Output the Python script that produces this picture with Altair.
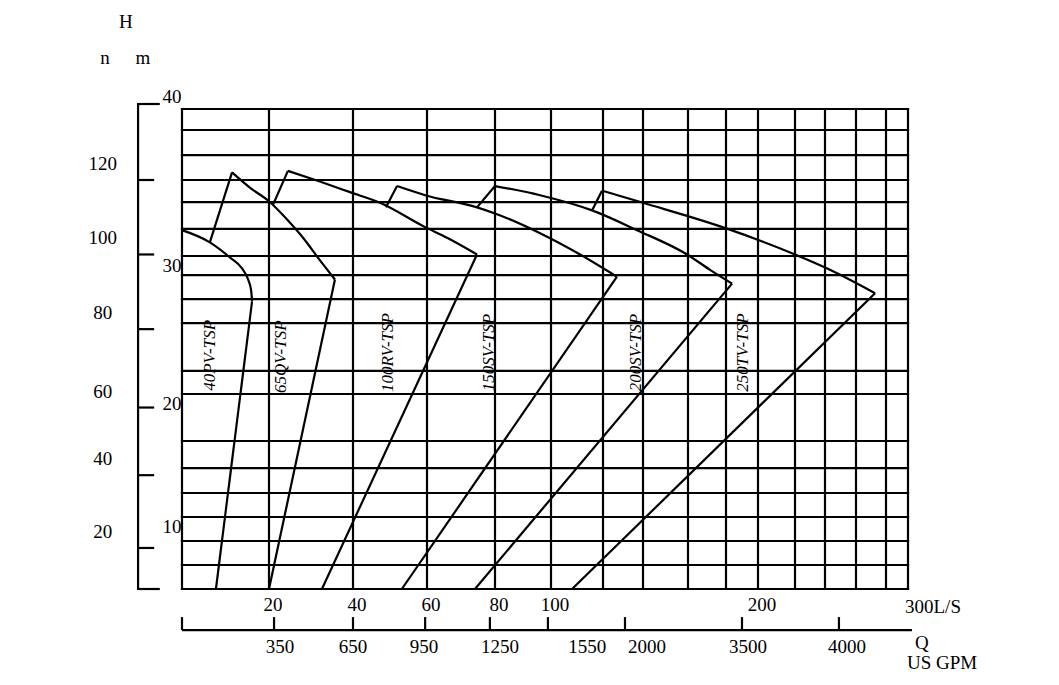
import altair as alt
import pandas as pd

# ---------------- data ----------------
MODELS = ["40PV-TSP", "65QV-TSP", "100RV-TSP", "150SV-TSP", "200SV-TSP", "250TV-TSP"]

# upper H-Q curve of each pump (Q in L/S, H in m)
CURVE_Q = [
    [0.0, 6.4, 11.0, 13.8, 15.2, 15.9, 16.1],
    [11.5, 15.6, 20.0, 24.3, 28.1, 32.1, 35.7],
    [24.5, 32.1, 39.3, 47.3, 59.5, 65.9, 74.7],
    [51.9, 59.5, 74.7, 80.0, 96.1, 111.2, 127.0],
    [80.0, 96.1, 115.8, 137.0, 159.6, 171.6, 183.8],
    [119.6, 140.0, 180.6, 220.0, 243.2, 272.7],
]
CURVE_H = [
    [31.7, 30.9, 29.9, 29.1, 28.3, 27.5, 26.7],
    [35.5, 34.5, 33.6, 32.4, 31.2, 29.7, 28.3],
    [35.6, 34.9, 34.2, 33.5, 31.9, 31.2, 30.1],
    [34.6, 34.0, 33.2, 32.8, 31.5, 30.1, 28.5],
    [34.6, 34.0, 33.0, 31.7, 30.1, 29.0, 28.0],
    [34.3, 33.5, 31.8, 30.1, 29.0, 27.3],
]
# Q where the straight falling branch of each curve reaches H = 0
END_Q = [7.8, 20.0, 32.6, 53.2, 74.1, 108.1]
# short connector drawn from the previous curve up to each curve's first point
HOOK_Q = [6.4, 21.0, 48.9, 74.7, 115.8]
HOOK_H = [30.9, 33.4, 33.2, 33.2, 33.0]
# where the model names sit (data space)
LABEL_Q = [6.4, 22.9, 49.5, 78.2, 136.5, 190.6]
LABEL_H = [22.8, 22.7, 23.0, 23.0, 23.0, 23.0]

# grid of the chart
GRID_Q = [0, 20, 40, 60, 80, 100, 120, 140, 160, 180, 200, 220, 240, 260, 280, 300]
GRID_H = [0, 3.33, 6.67, 10, 11.95, 13.98, 16.18, 20, 21.67, 25.14, 26.88,
          28.62, 30, 31.78, 33.55, 35.0, 36.64, 38.29, 39.67]

# tick labels
LS_LABELS = [20, 40, 60, 80, 100, 200]
M_LABELS = [10, 20, 30]
M_TOP_LABEL = [40]
FT_LABELS = [20, 40, 60, 80, 100, 120]
FT_TICK_H = [5.7, 13.4, 18.9, 24.7, 30.1, 35.0]
GPM_LABELS = ["350", "650", "950", "1250", "1550", "2000", "3500", "4000"]
GPM_TICK_Q = [0, 21.2, 40.0, 59.5, 78.5, 98.9, 131.0, 190.0, 249.0]
GPM_LABEL_Q = [22.6, 40.0, 59.2, 81.8, 113.9, 141.8, 193.8, 254.2]

# ---------------- layout (scales and decoration anchors) ----------------
X_RANGE = [174, 261, 345, 419, 487, 543, 595, 635, 680, 718, 750, 787, 817, 848, 878, 900]
Y_STOPS = [0, 10, 20, 30, 40]
Y_RANGE = [581, 509, 386, 248, 96]

BRACKET_Q = -10.1
BRACKET_TICK_END = -6.4
BRACKET_CAP_END = -5.1
FT_LABEL_Q = -18.2
M_LABEL_Q = -2.3
GPM_AXIS_H = -5.7
GPM_TICK_TOP = -3.9
GPM_AXIS_END = 303.6
HEADER_TEXT = ["H", "n", "m"]
HEADER_Q = [-12.9, -17.7, -9.0]
HEADER_H = [45.4, 43.0, 43.0]

FONT = "Liberation Serif, Times New Roman, serif"
FS = 19
INK = "#000000"
LW = 2.2

XS = alt.Scale(domain=GRID_Q, range=X_RANGE, nice=False, zero=False)
YS = alt.Scale(domain=Y_STOPS, range=Y_RANGE, nice=False, zero=False)


def X(f):
    return alt.X(f, type="quantitative", scale=XS, axis=None)


def Y(f):
    return alt.Y(f, type="quantitative", scale=YS, axis=None)


def txt(df, **kw):
    return alt.Chart(df).mark_text(font=FONT, fontSize=kw.pop("fontSize", FS), color=INK, **kw)


# ---------------- tables ----------------
rows = []
for k, m in enumerate(MODELS):
    for i, (q, h) in enumerate(zip(CURVE_Q[k], CURVE_H[k])):
        rows.append({"model": m, "i": i, "q": q, "h": h})
df_curve = pd.DataFrame(rows)

df_fall = pd.DataFrame({
    "model": MODELS,
    "q": [c[-1] for c in CURVE_Q],
    "h": [c[-1] for c in CURVE_H],
    "q2": END_Q,
    "h2": [0] * len(MODELS),
})
df_hook = pd.DataFrame({
    "model": MODELS[1:],
    "q": HOOK_Q,
    "h": HOOK_H,
    "q2": [c[0] for c in CURVE_Q[1:]],
    "h2": [c[0] for c in CURVE_H[1:]],
})
df_label = pd.DataFrame({"model": MODELS, "q": LABEL_Q, "h": LABEL_H})

df_vgrid = pd.DataFrame({"q": GRID_Q, "h0": GRID_H[0], "h1": GRID_H[-1]})
df_hgrid = pd.DataFrame({"h": GRID_H, "q0": GRID_Q[0], "q1": GRID_Q[-1]})

# ---------------- layers ----------------
vgrid = alt.Chart(df_vgrid).mark_rule(color=INK, strokeWidth=LW, strokeCap="square").encode(
    x=X("q"), y=Y("h0"), y2=alt.Y2("h1"))
hgrid = alt.Chart(df_hgrid).mark_rule(color=INK, strokeWidth=LW, strokeCap="square").encode(
    y=Y("h"), x=X("q0"), x2=alt.X2("q1"))

curves = alt.Chart(df_curve).mark_line(color=INK, strokeWidth=LW, interpolate="monotone").encode(
    x=X("q"), y=Y("h"), detail="model:N", order="i:Q")
falls = alt.Chart(df_fall).mark_rule(color=INK, strokeWidth=LW).encode(
    x=X("q"), y=Y("h"), x2=alt.X2("q2"), y2=alt.Y2("h2"))
hooks = alt.Chart(df_hook).mark_rule(color=INK, strokeWidth=LW).encode(
    x=X("q"), y=Y("h"), x2=alt.X2("q2"), y2=alt.Y2("h2"))
labels = txt(df_label, angle=270, fontSize=17, fontStyle="italic",
             align="center", baseline="middle").encode(x=X("q"), y=Y("h"), text="model:N")

# left bracket axis (m / ft)
df_bracket = pd.DataFrame({"q": [BRACKET_Q], "h0": [Y_STOPS[0]], "h1": [Y_STOPS[-1]]})
bracket = alt.Chart(df_bracket).mark_rule(color=INK, strokeWidth=LW, strokeCap="square").encode(
    x=X("q"), y=Y("h0"), y2=alt.Y2("h1"))
df_caps = pd.DataFrame({"h": [Y_STOPS[0], Y_STOPS[-1]], "q0": BRACKET_Q, "q1": BRACKET_CAP_END})
caps = alt.Chart(df_caps).mark_rule(color=INK, strokeWidth=LW).encode(
    y=Y("h"), x=X("q0"), x2=alt.X2("q1"))
df_ft = pd.DataFrame({"ft": [str(v) for v in FT_LABELS], "h": FT_TICK_H,
                      "q0": BRACKET_Q, "q1": BRACKET_TICK_END, "ql": FT_LABEL_Q})
ft_ticks = alt.Chart(df_ft).mark_rule(color=INK, strokeWidth=LW).encode(
    y=Y("h"), x=X("q0"), x2=alt.X2("q1"))
ft_text = txt(df_ft, dy=-16, align="center", baseline="middle").encode(
    x=X("ql"), y=Y("h"), text="ft:N")

df_m = pd.DataFrame({"t": [str(v) for v in M_LABELS], "h": M_LABELS, "q": M_LABEL_Q})
m_text = txt(df_m, dy=1, align="center", baseline="top").encode(
    x=X("q"), y=Y("h"), text="t:N")
df_mtop = pd.DataFrame({"t": [str(v) for v in M_TOP_LABEL], "h": M_TOP_LABEL, "q": M_LABEL_Q})
m_top = txt(df_mtop, dy=3, align="center", baseline="bottom").encode(
    x=X("q"), y=Y("h"), text="t:N")

df_head = pd.DataFrame({"t": HEADER_TEXT, "q": HEADER_Q, "h": HEADER_H})
head = txt(df_head, align="center", baseline="middle").encode(
    x=X("q"), y=Y("h"), text="t:N")

# bottom L/S labels
df_ls = pd.DataFrame({"q": LS_LABELS, "t": [str(v) for v in LS_LABELS], "h": 0})
ls_text = txt(df_ls, dx=4, dy=16, align="center", baseline="middle").encode(
    x=X("q"), y=Y("h"), text="t:N")
df_ls_end = pd.DataFrame({"q": [GRID_Q[-1]], "t": [f"{GRID_Q[-1]}L/S"], "h": 0})
ls_end = txt(df_ls_end, dx=-3, dy=18, align="left", baseline="middle").encode(
    x=X("q"), y=Y("h"), text="t:N")

# US GPM axis
df_gaxis = pd.DataFrame({"h": [GPM_AXIS_H], "q0": [GPM_TICK_Q[0]], "q1": [GPM_AXIS_END]})
g_axis = alt.Chart(df_gaxis).mark_rule(color=INK, strokeWidth=LW).encode(
    y=Y("h"), x=X("q0"), x2=alt.X2("q1"))
df_gticks = pd.DataFrame({"q": GPM_TICK_Q, "h0": GPM_AXIS_H, "h1": GPM_TICK_TOP})
g_ticks = alt.Chart(df_gticks).mark_rule(color=INK, strokeWidth=LW).encode(
    x=X("q"), y=Y("h0"), y2=alt.Y2("h1"))
df_glab = pd.DataFrame({"q": GPM_LABEL_Q, "t": GPM_LABELS, "h": GPM_AXIS_H})
g_text = txt(df_glab, dy=17, align="center", baseline="middle").encode(
    x=X("q"), y=Y("h"), text="t:N")
df_gq = pd.DataFrame({"q": [GPM_AXIS_END], "h": [GPM_AXIS_H], "t": ["Q"]})
g_q = txt(df_gq, dx=3, dy=13, align="left", baseline="middle").encode(
    x=X("q"), y=Y("h"), text="t:N")
df_gu = pd.DataFrame({"q": [GPM_AXIS_END], "h": [GPM_AXIS_H], "t": ["US GPM"]})
g_unit = txt(df_gu, dx=-5, dy=33, align="left", baseline="middle").encode(
    x=X("q"), y=Y("h"), text="t:N")

chart = alt.layer(
    vgrid, hgrid, curves, falls, hooks, labels,
    bracket, caps, ft_ticks, ft_text, m_text, m_top, head,
    ls_text, ls_end, g_axis, g_ticks, g_text, g_q, g_unit,
).properties(
    width=1040, height=668,
    autosize=alt.AutoSizeParams(type="none"),
    padding=0,
    background="white",
).configure_view(stroke="transparent")

chart.save("out.html", embed_options={"renderer": "svg", "actions": False})
